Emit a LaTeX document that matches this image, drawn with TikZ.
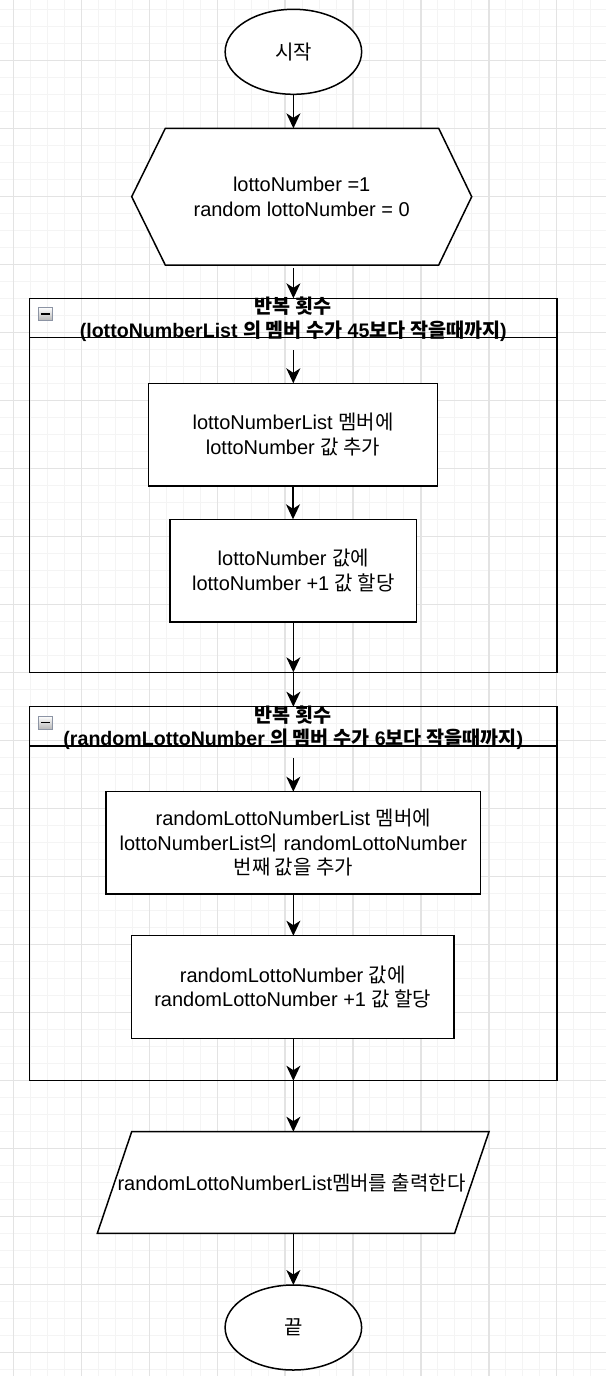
\documentclass[tikz,border=0pt]{standalone}
\usepackage{fontspec}
\setmainfont{Liberation Sans}
\newfontfamily\kr{Noto Sans CJK KR}
\newcommand{\K}[1]{{\kr #1}}
\usetikzlibrary{arrows.meta,calc,shapes.geometric}
\definecolor{gmajor}{HTML}{E3E3E3}
\definecolor{gminor}{HTML}{F4F4F4}
\definecolor{iconborder}{HTML}{8C94A4}
\begin{document}
\begin{tikzpicture}[x=1pt,y=-1pt,
  every node/.style={inner sep=0pt, outer sep=0pt},
  txt/.style={font=\fontsize{20}{24.5}\selectfont, align=center, text=black},
  ln/.style={line width=1.5pt, draw=black},
  terminal/.style={ellipse, ln, fill=white, minimum width=136.5pt, minimum height=85pt, txt},
  proc/.style={rectangle, ln, fill=white, txt},
  loopbox/.style={rectangle, ln, minimum width=527.5pt, minimum height=374pt},
  hdr/.style={font=\bfseries\fontsize{19.6}{23.5}\selectfont, align=center, text=black},
  icon/.style={rectangle, draw=iconborder, line width=0.8pt, top color=white, bottom color=black!28, minimum width=14pt, minimum height=13pt},
  arr/.style={line width=1.5pt, draw=black, -{Stealth[length=15pt,width=14pt,inset=4.5pt]}},
  minorline/.style={draw=gminor, line width=1pt},
  majorline/.style={draw=gmajor, line width=1.4pt},
]
\fill[white] (0,0) rectangle (606,1378);
\useasboundingbox (0,0) rectangle (606,1378);
% grid
\begin{scope}
\clip (0,0) rectangle (606,1375);
\foreach \i in {0,...,36} \draw[minorline] ({13.5+16.975*\i},0) -- ({13.5+16.975*\i},1378);
\foreach \i in {0,...,81} \draw[minorline] (0,{9.7+17*\i}) -- (606,{9.7+17*\i});
\foreach \i in {0,...,8} \draw[majorline] ({13.5+67.9*\i},0) -- ({13.5+67.9*\i},1378);
\foreach \i in {0,...,19} \draw[majorline] (0,{60.7+68*\i}) -- (606,{60.7+68*\i});
\end{scope}

% start
\node[terminal] (start) at (293.4,51.8) {\K{시작}};

% init hexagon
\node[minimum width=340pt, minimum height=136.7pt] (init) at (301.7,196.7) {};
\draw[ln, fill=white] (init.west) -- ($(init.north west)+(33.6,0)$) -- ($(init.north east)+(-33,0)$) -- (init.east) -- ($(init.south east)+(-33,0)$) -- ($(init.south west)+(33.6,0)$) -- cycle;
\node[txt] (inittext) at (init) {lottoNumber =1\\random lottoNumber = 0};

% loop 1
\node[loopbox] (loop1) at (293.25,485.3) {};
\draw[ln] ($(loop1.north west)+(0,39.4)$) -- ($(loop1.north east)+(0,39.4)$);
\node[hdr] (h1) at ($(loop1.north)+(0,20.8)$) {\K{반복 횟수}\\(lottoNumberList \K{의 멤버 수가} 45\K{보다 작을때까지})};
\node[icon] (ic1) at (45.2,313.8) {};
\draw[line width=1.6pt] ($(ic1.west)+(2.6,0)$) -- ($(ic1.east)+(-2.6,0)$);

\node[proc, minimum width=289.4pt, minimum height=102.7pt] (a) at (293,434.65) {lottoNumberList \K{멤버에}\\lottoNumber \K{값 추가}};
\node[proc, minimum width=246.7pt, minimum height=102.7pt] (b) at (293.35,570.65) {lottoNumber \K{값에}\\lottoNumber +1 \K{값 할당}};

% loop 2
\node[loopbox] (loop2) at (293.25,893.7) {};
\draw[ln] ($(loop2.north west)+(0,39.2)$) -- ($(loop2.north east)+(0,39.2)$);
\node[hdr] (h2) at ($(loop2.north)+(0,20.8)$) {\K{반복 횟수}\\(randomLottoNumber \K{의 멤버 수가} 6\K{보다 작을때까지})};
\node[icon] (ic2) at (45.2,722.6) {};
\draw[line width=1.6pt] ($(ic2.west)+(2.6,0)$) -- ($(ic2.east)+(-2.6,0)$);

\node[proc, minimum width=374.7pt, minimum height=102.3pt] (c) at (293.35,842.85) {randomLottoNumberList \K{멤버에}\\lottoNumberList\K{의} randomLottoNumber\\\K{번째 값을 추가}};
\node[proc, minimum width=322.3pt, minimum height=102.6pt] (d) at (292.85,987) {randomLottoNumber \K{값에}\\randomLottoNumber +1 \K{값 할당}};

% output parallelogram
\node[minimum width=391.7pt, minimum height=101.6pt] (out) at (293.15,1182.5) {};
\draw[ln, fill=white] (out.south west) -- ($(out.north west)+(34.4,0)$) -- (out.north east) -- ($(out.south east)+(-34.4,0)$) -- cycle;
\node[txt] (outtext) at (291.5,1183) {randomLottoNumberList\K{멤버를 출력한다}};

% end
\node[terminal] (stop) at (293.35,1327.5) {\K{끝}};

% connectors
\coordinate (l1in) at (293.3,350);
\coordinate (l2in) at (293.3,758);
\draw[arr] (start.south) -- (start.south |- init.north);
\draw[arr] ($(start.south |- init.south)+(0,3)$) -- (start.south |- loop1.north);
\draw[arr] (l1in) -- (l1in |- a.north);
\draw[arr] (a.south) -- (a.south |- b.north);
\draw[arr] (b.south) -- (b.south |- loop1.south);
\draw[arr] (b.south |- loop1.south) -- (b.south |- loop2.north);
\draw[arr] (l2in) -- (l2in |- c.north);
\draw[arr] (c.south) -- (c.south |- d.north);
\draw[arr] (c.south |- d.south) -- (c.south |- loop2.south);
\draw[arr] (c.south |- loop2.south) -- (c.south |- out.north);
\draw[arr] (c.south |- out.south) -- (c.south |- stop.north);
\end{tikzpicture}
\end{document}
